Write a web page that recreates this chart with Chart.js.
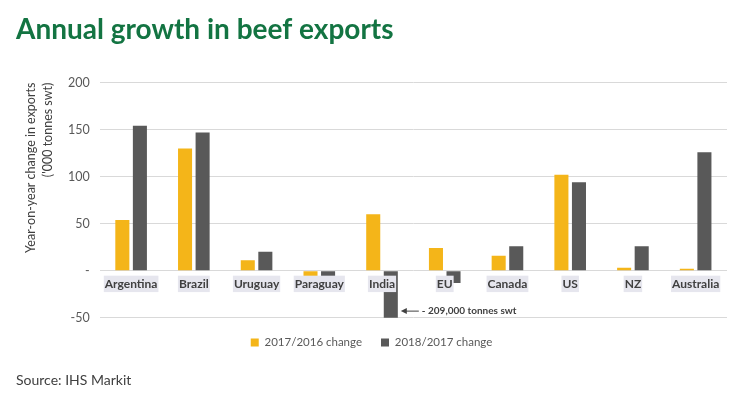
<!DOCTYPE html>
<html>
<head>
<meta charset="utf-8">
<script src="https://cdn.jsdelivr.net/npm/chart.js@4/dist/chart.umd.min.js"></script>
<style>
  html, body { margin: 0; padding: 0; background: #ffffff; }
  #wrap { position: relative; width: 740px; height: 395px; }
</style>
</head>
<body>
<div id="wrap"><canvas id="c" width="740" height="395"></canvas></div>
<script>
const titleText = 'Annual growth in beef exports';
const sourceText = 'Source: IHS Markit';
const axisTitle = ['Year-on-year change in exports', "('000 tonnes swt)"];
const categories = ['Argentina', 'Brazil', 'Uruguay', 'Paraguay', 'India', 'EU', 'Canada', 'US', 'NZ', 'Australia'];
const seriesNames = ['2017/2016 change', '2018/2017 change'];
const change2017 = [54, 130, 11, -9, 60, 24, 16, 102, 3, 2];
const change2018 = [154, 147, 20, -8, -209, -13, 26, 94, 26, 126];
const yMin = -50, yMax = 200, yStep = 50;
const noteText = '- 209,000 tonnes swt';
const noteIndex = 4;
const FONT = 'Lato, "Open Sans", sans-serif';

const notePlugin = {
  id: 'note',
  afterDatasetsDraw(chart) {
    const meta = chart.getDatasetMeta(1);
    const el = meta.data[noteIndex];
    const ys = chart.scales.y;
    const ctx = chart.ctx;
    const x0 = el.x + el.width / 2 + 3;
    const y = ys.getPixelForValue(-43);
    ctx.save();
    ctx.strokeStyle = '#404040';
    ctx.fillStyle = '#404040';
    ctx.lineWidth = 1;
    ctx.beginPath();
    ctx.moveTo(x0 + 18, y);
    ctx.lineTo(x0 + 4, y);
    ctx.stroke();
    ctx.beginPath();
    ctx.moveTo(x0, y);
    ctx.lineTo(x0 + 6, y - 3);
    ctx.lineTo(x0 + 6, y + 3);
    ctx.closePath();
    ctx.fill();
    ctx.font = 'bold 10px ' + FONT;
    ctx.textBaseline = 'middle';
    ctx.fillText(noteText, x0 + 21, y);
    ctx.restore();
  }
};

new Chart(document.getElementById('c'), {
  type: 'bar',
  data: {
    labels: categories,
    datasets: [
      { label: seriesNames[0], data: change2017, backgroundColor: '#F4B519', categoryPercentage: 0.56, barPercentage: 0.8 },
      { label: seriesNames[1], data: change2018, backgroundColor: '#595959', categoryPercentage: 0.56, barPercentage: 0.8 }
    ]
  },
  options: {
    responsive: false,
    animation: false,
    layout: { padding: { left: 16, right: 13, top: 4, bottom: 6 } },
    plugins: {
      title: {
        display: true,
        text: titleText,
        align: 'start',
        color: '#137442',
        font: { family: FONT, size: 28, weight: 'bold' },
        padding: { top: 9, bottom: 36 }
      },
      subtitle: {
        display: true,
        text: sourceText,
        position: 'bottom',
        align: 'start',
        color: '#404040',
        font: { family: FONT, size: 14 },
        padding: { top: 14, bottom: 0 }
      },
      legend: {
        position: 'bottom',
        labels: {
          boxWidth: 8, boxHeight: 8,
          color: '#595959',
          font: { family: FONT, size: 11.5 },
          padding: 19
        }
      },
      tooltip: { enabled: false }
    },
    scales: {
      x: {
        position: { y: 0 },
        grid: { display: false, drawTicks: false },
        border: { display: false },
        ticks: {
          z: 1,
          color: '#404040',
          font: { family: FONT, size: 12, weight: 'bold' },
          padding: 6,
          maxRotation: 0,
          minRotation: 0,
          autoSkip: false,
          showLabelBackdrop: true,
          backdropColor: '#E6E6EE',
          backdropPadding: { x: 1, y: 1 }
        }
      },
      y: {
        min: yMin, max: yMax,
        grid: { color: '#D9D9D9', drawTicks: false },
        border: { display: false },
        ticks: {
          stepSize: yStep,
          color: '#595959',
          padding: 10,
          font: { family: FONT, size: 12.5 },
          callback: (v) => v === 0 ? '-' : v
        },
        title: {
          display: true,
          text: axisTitle,
          align: 'end',
          color: '#404040',
          font: { family: FONT, size: 12.5, lineHeight: 1.4 },
          padding: { top: 6, bottom: 1 }
        }
      }
    }
  },
  plugins: [notePlugin]
});
</script>
</body>
</html>
